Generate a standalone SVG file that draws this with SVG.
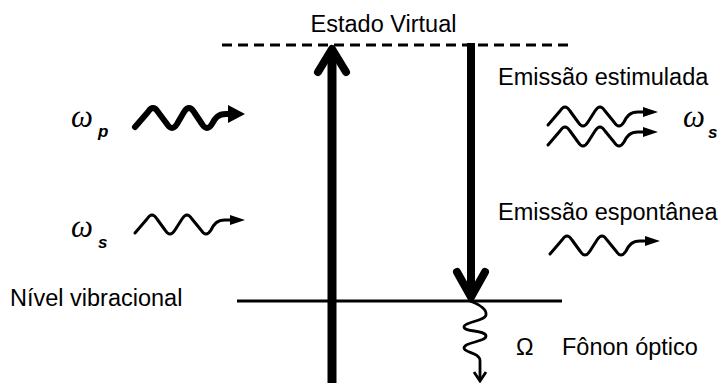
<svg xmlns="http://www.w3.org/2000/svg" width="723" height="383" viewBox="0 0 723 383">
<style>
.lbl{font-family:"Liberation Sans",Arial,sans-serif;font-size:23.5px;fill:#000}
.om{font-family:"Liberation Serif","Times New Roman",serif;font-style:italic;font-size:31px;fill:#000}
.sub{font-family:"Liberation Sans",Arial,sans-serif;font-style:italic;font-weight:bold;font-size:17px;fill:#000}
.wave{fill:none;stroke:#000;stroke-width:3;stroke-linecap:round;stroke-linejoin:round}
.thick{stroke-width:6}
.arm{fill:none;stroke:#000;stroke-width:8;stroke-linecap:round;stroke-linejoin:round}
</style>
<defs>
<g id="w">
<path class="wave" d="M0,0 L12,-14 Q17,-22 22,-14 L30,-3 Q35,5 40,-3 L47,-14 Q52,-22 57,-14 L66,-3 Q71,5 76,-3 C79,-9 82,-13 90,-13 L97,-13"/>
<polygon points="95,-18 110,-13 95,-8" fill="#000"/>
</g>
<g id="wt">
<path class="wave thick" d="M0,0 L13,-15 Q18,-23 23,-15 L32,-3 Q37,5 42,-3 L49,-15 Q54,-23 59,-15 L67,-3 Q72,5 77,-3 C80,-9 83,-13 91,-13 L96,-13"/>
<polygon points="93,-22 110,-13 93,-4" fill="#000"/>
</g>
</defs>

<g id="levels">
<line x1="222" y1="45" x2="572" y2="45" stroke="#000" stroke-width="3" stroke-dasharray="10,6"/>
<line x1="237" y1="301" x2="562" y2="301" stroke="#000" stroke-width="3"/>
</g>

<g id="connectors">
<g id="pump-arrow">
<line x1="332" y1="390" x2="332" y2="50" stroke="#000" stroke-width="9"/>
<polyline class="arm" points="318,72 332,49 346,72"/>
</g>
<g id="stokes-arrow">
<line x1="471" y1="43" x2="471" y2="292" stroke="#000" stroke-width="8"/>
<polyline class="arm" points="457,272 471,297 485,272"/>
</g>
<g id="phonon">
<path d="M470,301 C478,304 487,309 486,315 C485,321 464,322 464,327 C464,332 486,330 486,336 C486,342 464,342 464,348 C464,353 480,352 480,361 L480,380" fill="none" stroke="#000" stroke-width="2.8"/>
<polyline points="474,372 480,381 486,372" fill="none" stroke="#000" stroke-width="2.8"/>
</g>
</g>

<g id="estado-virtual"><text class="lbl" x="383.5" y="32" text-anchor="middle">Estado Virtual</text></g>
<g id="nivel-vibracional"><text class="lbl" x="10" y="306">Nível vibracional</text></g>

<g id="pump">
<text class="om" x="71" y="127">ω</text><text class="sub" x="98" y="137">p</text>
<use href="#wt" x="135" y="127"/>
</g>
<g id="stokes-in">
<text class="om" x="71" y="237">ω</text><text class="sub" x="98" y="248">s</text>
<use href="#w" x="135" y="233"/>
</g>
<g id="emissao-estimulada">
<text class="lbl" x="498" y="85">Emissão estimulada</text>
<use href="#w" x="548" y="125"/>
<use href="#w" x="548" y="145"/>
<text class="om" x="683" y="127">ω</text><text class="sub" x="708" y="138">s</text>
</g>
<g id="emissao-espontanea">
<text class="lbl" x="498" y="220">Emissão espontânea</text>
<use href="#w" x="550" y="254"/>
</g>
<g id="fonon">
<text class="lbl" x="516" y="355">Ω</text>
<text class="lbl" x="562" y="355">Fônon óptico</text>
</g>
</svg>
